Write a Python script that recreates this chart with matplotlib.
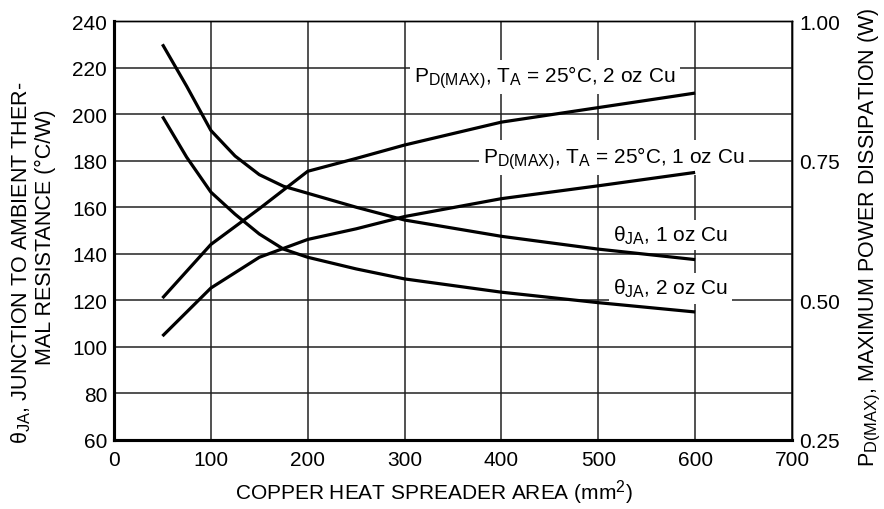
import matplotlib
matplotlib.use("Agg")
import matplotlib.pyplot as plt
try:
    import matplotlib._mathtext as _mt
    _mt.SHRINK_FACTOR = 0.76
except Exception:
    pass

plt.rcParams['font.family'] = ['Liberation Sans', 'DejaVu Sans']
plt.rcParams['mathtext.fontset'] = 'custom'
plt.rcParams['mathtext.rm'] = 'Liberation Sans'
plt.rcParams['mathtext.it'] = 'Liberation Sans'
plt.rcParams['mathtext.default'] = 'regular'

# Data (x in mm^2)
x_theta = [50, 75, 100, 125, 150, 175, 200, 250, 300, 400, 500, 600]
theta_1oz = [230, 212, 193, 182, 174, 169, 166, 160, 154.5, 147.5, 142, 137.5]
theta_2oz = [199, 181.5, 166.5, 157, 148.5, 142, 138.5, 133.5, 129.2, 123.5, 119, 115]

x_pd = [50, 100, 150, 200, 250, 300, 400, 500, 600]
pd_2oz = [0.504, 0.600, 0.664, 0.731, 0.754, 0.778, 0.819, 0.845, 0.871]
pd_1oz = [0.436, 0.522, 0.577, 0.609, 0.628, 0.650, 0.682, 0.705, 0.729]

xticks = [0, 100, 200, 300, 400, 500, 600, 700]
yticks_left = [60, 80, 100, 120, 140, 160, 180, 200, 220, 240]
yticks_right = [0.25, 0.50, 0.75, 1.00]

W, H = 884, 510
fig = plt.figure(figsize=(W/100, H/100), dpi=100)
ax = fig.add_axes([114/W, 1-441/H, (792-114)/W, (441-22)/H])
ax2 = ax.twinx()

fs = 15
ax.set_xlim(0, 700)
ax.set_ylim(60, 240)
ax2.set_ylim(0.25, 1.00)
ax.set_xticks(xticks)
ax.set_yticks(yticks_left)
ax2.set_yticks(yticks_right)
ax2.set_yticklabels([f"{v:.2f}" for v in yticks_right])
ax.grid(True, color='#222222', linewidth=1.1)
ax.set_axisbelow(True)
ax.tick_params(axis='x', length=0, labelsize=fs, pad=7)
ax.tick_params(axis='y', length=0, labelsize=fs, pad=5)
ax2.tick_params(axis='y', length=0, labelsize=fs, pad=5)

for a in (ax, ax2):
    a.spines['top'].set_linewidth(1.0)
    a.spines['right'].set_linewidth(1.0)
    a.spines['left'].set_linewidth(2.2)
    a.spines['bottom'].set_linewidth(2.2)

lw = 2.3
ax.plot(x_theta, theta_1oz, color='black', lw=lw, solid_capstyle='butt', solid_joinstyle='round', zorder=5)
ax.plot(x_theta, theta_2oz, color='black', lw=lw, solid_capstyle='butt', solid_joinstyle='round', zorder=5)
ax2.plot(x_pd, pd_2oz, color='black', lw=lw, solid_capstyle='butt', solid_joinstyle='round', zorder=5)
ax2.plot(x_pd, pd_1oz, color='black', lw=lw, solid_capstyle='butt', solid_joinstyle='round', zorder=5)

box = dict(facecolor='white', edgecolor='none', pad=3)
ax.text(310, 213.8, r'$P_{D(MAX)}$, $T_A$ = 25°C, 2 oz Cu', fontsize=fs, ha='left', va='baseline', bbox=box, zorder=4)
ax.text(381, 179.3, r'$P_{D(MAX)}$, $T_A$ = 25°C, 1 oz Cu', fontsize=fs, ha='left', va='baseline', bbox=box, zorder=4)
ax.text(515, 145.6, r'$θ_{JA}$, 1 oz Cu', fontsize=fs, ha='left', va='baseline', bbox=box, zorder=4)
ax.text(515, 122.7, r'$θ_{JA}$, 2 oz Cu', fontsize=fs, ha='left', va='baseline', bbox=box, zorder=4)

fig.text(434/W, 1-493/H, r'COPPER HEAT SPREADER AREA (mm$^2$)', fontsize=fs, ha='center', va='center')

fsl = 15.5
fig.text(21/W, 1-262.5/H, '$θ_{JA}$, JUNCTION TO AMBIENT THER-', rotation=90,
         fontsize=fsl, ha='center', va='center')
fig.text(45/W, 1-237.5/H, 'MAL RESISTANCE (°C/W)', rotation=90,
         fontsize=fsl, ha='center', va='center')
fig.text(869/W, 1-237.5/H, r'$P_{D(MAX)}$, MAXIMUM POWER DISSIPATION (W)', rotation=90,
         fontsize=fsl, ha='center', va='center')

fig.savefig('out.png', dpi=100)
